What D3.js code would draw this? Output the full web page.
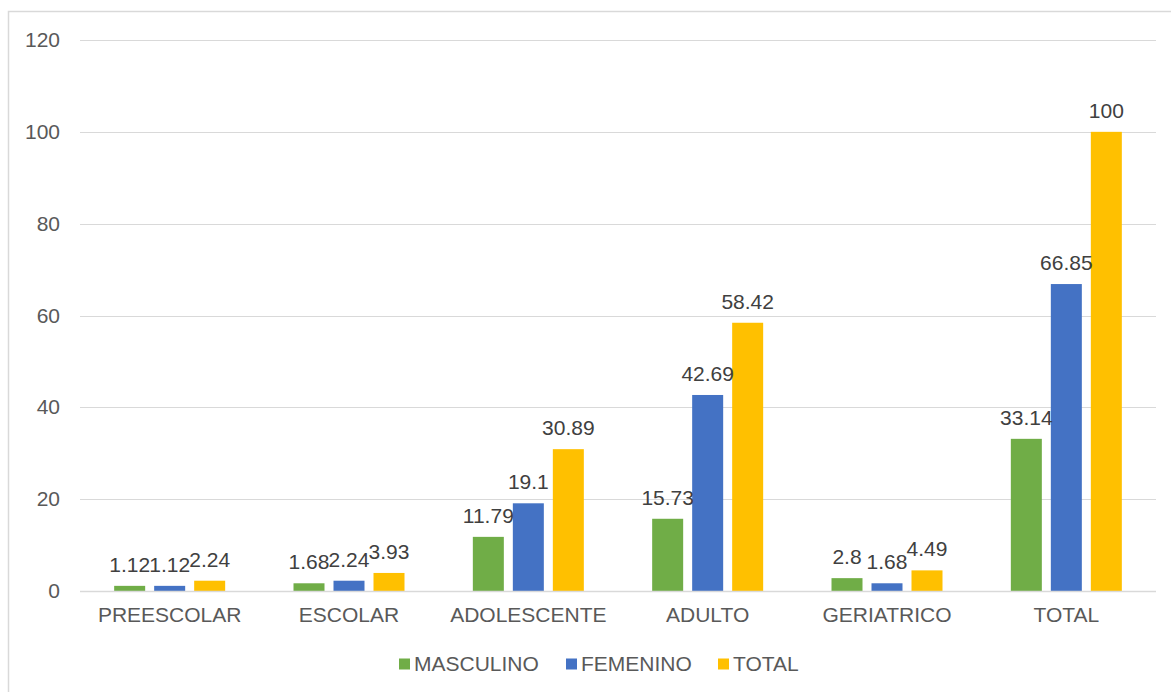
<!DOCTYPE html>
<html>
<head>
<meta charset="utf-8">
<script src="https://cdn.jsdelivr.net/npm/d3@7"></script>
<style>
  html, body { margin: 0; padding: 0; background: #fff; }
  svg { display: block; font-family: "Liberation Sans", Arial, Helvetica, sans-serif; }
</style>
</head>
<body>
<svg id="chart" width="1171" height="692"></svg>
<script>
// Grupos de edad y porcentajes por sexo
const categories = ["PREESCOLAR", "ESCOLAR", "ADOLESCENTE", "ADULTO", "GERIATRICO", "TOTAL"];
const seriesNames = ["MASCULINO", "FEMENINO", "TOTAL"];
const masculino = [1.12, 1.68, 11.79, 15.73, 2.8, 33.14];
const femenino  = [1.12, 2.24, 19.1, 42.69, 1.68, 66.85];
const total     = [2.24, 3.93, 30.89, 58.42, 4.49, 100];
const yTicks = [0, 20, 40, 60, 80, 100, 120];
const colors = ["#70ad47", "#4472c4", "#ffc000"];

const seriesValues = [masculino, femenino, total];

const svg = d3.select("#chart");

// Marco del gráfico
svg.append("rect")
  .attr("x", 8.5).attr("y", 11.5)
  .attr("width", 1180).attr("height", 700)
  .attr("fill", "none").attr("stroke", "#d9d9d9").attr("stroke-width", 1.5);

const plot = { left: 80, right: 1156, top: 40, bottom: 591 };

const y = d3.scaleLinear().domain([0, 120]).range([plot.bottom, plot.top]);
const x0 = d3.scaleBand().domain(categories).range([plot.left, plot.right]).padding(0);
const groupW = 111;
const x1 = d3.scaleBand().domain(seriesNames)
  .range([(x0.bandwidth() - groupW) / 2, (x0.bandwidth() + groupW) / 2])
  .paddingInner(0.225).paddingOuter(0);

// Líneas de cuadrícula
svg.append("g")
  .selectAll("line")
  .data(yTicks)
  .join("line")
  .attr("x1", plot.left).attr("x2", plot.right)
  .attr("y1", d => Math.round(y(d)) + 0.5).attr("y2", d => Math.round(y(d)) + 0.5)
  .attr("stroke", "#d9d9d9").attr("stroke-width", 1);

// Etiquetas del eje Y
svg.append("g")
  .selectAll("text")
  .data(yTicks)
  .join("text")
  .attr("x", 60).attr("y", d => y(d) + 7)
  .attr("text-anchor", "end")
  .attr("font-size", 21)
  .attr("fill", "#595959")
  .text(d => d);

// Barras
const groups = svg.append("g")
  .selectAll("g")
  .data(categories)
  .join("g")
  .attr("transform", d => `translate(${x0(d)},0)`);

groups.selectAll("rect")
  .data((c, ci) => seriesNames.map((s, si) => ({ s, si, v: seriesValues[si][ci] })))
  .join("rect")
  .attr("x", d => x1(d.s))
  .attr("width", x1.bandwidth())
  .attr("y", d => y(d.v))
  .attr("height", d => y(0) - y(d.v))
  .attr("fill", d => colors[d.si]);

// Etiquetas de valor
groups.selectAll("text")
  .data((c, ci) => seriesNames.map((s, si) => ({ s, si, v: seriesValues[si][ci] })))
  .join("text")
  .attr("x", d => x1(d.s) + x1.bandwidth() / 2)
  .attr("y", d => y(d.v) - 14)
  .attr("text-anchor", "middle")
  .attr("font-size", 21)
  .attr("fill", "#404040")
  .text(d => d.v);

// Línea base
svg.append("line")
  .attr("x1", plot.left).attr("x2", plot.right)
  .attr("y1", Math.round(y(0)) + 0.5).attr("y2", Math.round(y(0)) + 0.5)
  .attr("stroke", "#d9d9d9").attr("stroke-width", 1.5);

// Etiquetas de categoría
svg.append("g")
  .selectAll("text")
  .data(categories)
  .join("text")
  .attr("x", d => x0(d) + x0.bandwidth() / 2)
  .attr("y", 622)
  .attr("text-anchor", "middle")
  .attr("font-size", 21)
  .attr("fill", "#595959")
  .text(d => d);

// Leyenda
const legendX = [399, 566, 718];
const legend = svg.append("g")
  .selectAll("g")
  .data(seriesNames)
  .join("g")
  .attr("transform", (d, i) => `translate(${legendX[i]},664)`);

legend.append("rect")
  .attr("x", 0).attr("y", -5.5)
  .attr("width", 11).attr("height", 11)
  .attr("fill", (d, i) => colors[i]);

legend.append("text")
  .attr("x", 15).attr("y", 7)
  .attr("font-size", 21)
  .attr("fill", "#595959")
  .text(d => d);
</script>
</body>
</html>
